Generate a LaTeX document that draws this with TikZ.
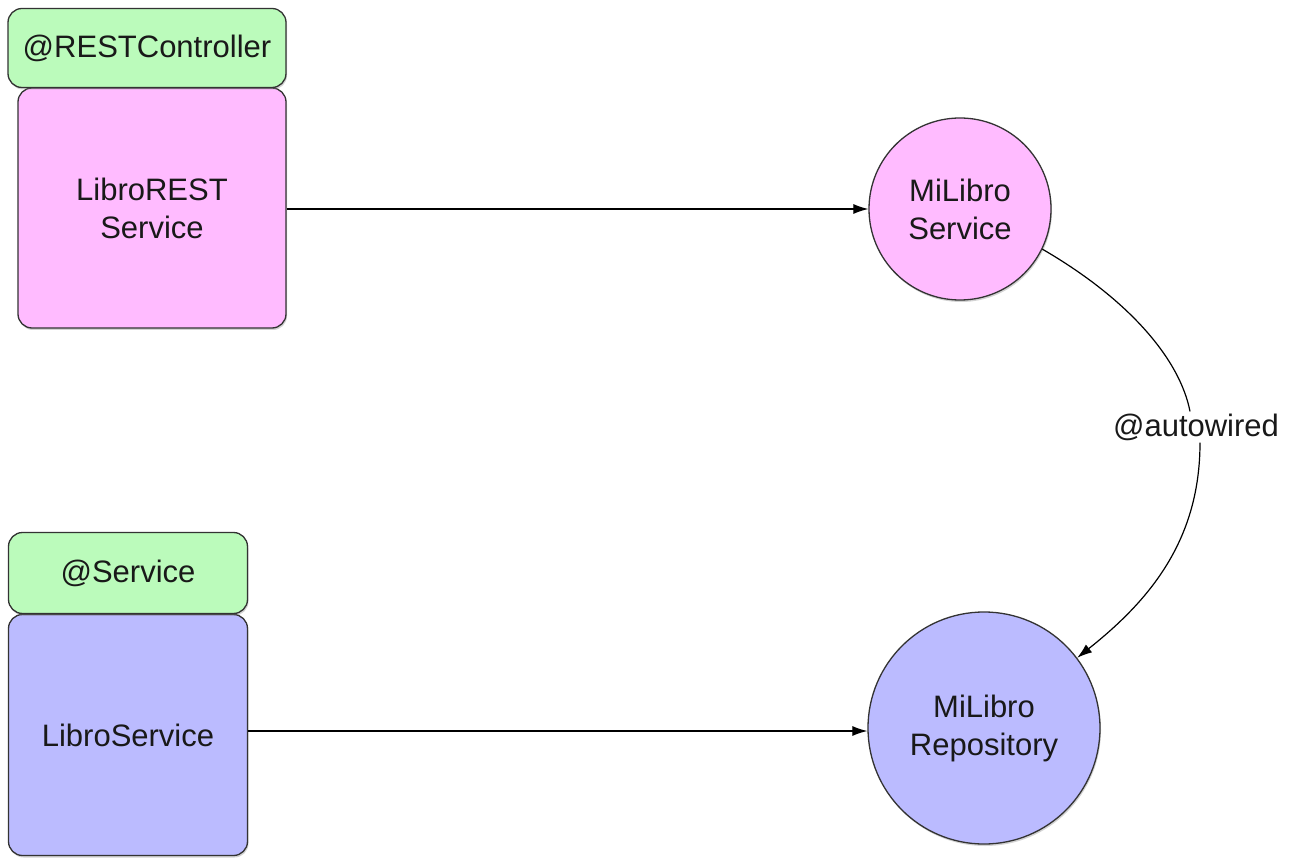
\documentclass[tikz,border=0pt]{standalone}
\usepackage{fontspec}
\setmainfont{Liberation Sans}
\usetikzlibrary{arrows.meta,shadows}
\definecolor{anngreen}{HTML}{BBFBBB}
\definecolor{annpink}{HTML}{FFBBFF}
\definecolor{annblue}{HTML}{BBBBFF}
\definecolor{edgegray}{HTML}{333333}
\begin{document}
\begin{tikzpicture}[x=1pt,y=-1pt,
  txt/.style={font=\fontsize{31}{38}\selectfont, text=black!90, align=center},
  boxstyle/.style={draw=edgegray, line width=1.3pt, rounded corners=14pt, txt,
    drop shadow={shadow xshift=1pt, shadow yshift=-2pt, opacity=0.35}},
  circstyle/.style={circle, draw=edgegray, line width=1.3pt, txt, inner sep=0pt,
    drop shadow={shadow xshift=1pt, shadow yshift=-2pt, opacity=0.35}},
  conn/.style={line width=1.2pt, -{Latex[length=15pt,width=10pt]}}]
\useasboundingbox (0,0) rectangle (1290,858);
% top-left group
\node[boxstyle, fill=annpink, minimum width=268pt, minimum height=240pt] (lrs) at (152,208) {LibroREST\\Service};
\node[boxstyle, fill=anngreen, minimum width=278pt, minimum height=79pt] (rc) at (147,48) {@RESTController};
% bottom-left group
\node[boxstyle, fill=annblue, minimum width=239pt, minimum height=241pt] (ls) at (128,735) {LibroService};
\node[boxstyle, fill=anngreen, minimum width=239pt, minimum height=81pt] (sv) at (128,573) {@Service};
% circles
\node[circstyle, fill=annpink, minimum size=182pt] (ms) at (960,209) {MiLibro\\Service};
\node[circstyle, fill=annblue, minimum size=232pt] (mr) at (984,728) {MiLibro\\Repository};
% label
\node[txt, inner sep=2pt] (aw) at (1196,427) {@autowired};
% connectors
\draw[conn] (lrs.east |- ms.west) -- (ms.west);
\draw[conn] (ls.east |- 0,731) -- (mr.west |- 0,731);
\draw[line width=1.2pt] (ms.-26) .. controls (1130,300) and (1180,360) .. (aw.north -| 1190,0);
\draw[conn] (aw.south -| 1200,0) .. controls (1200,540) and (1150,600) .. (mr.37);
\end{tikzpicture}
\end{document}
